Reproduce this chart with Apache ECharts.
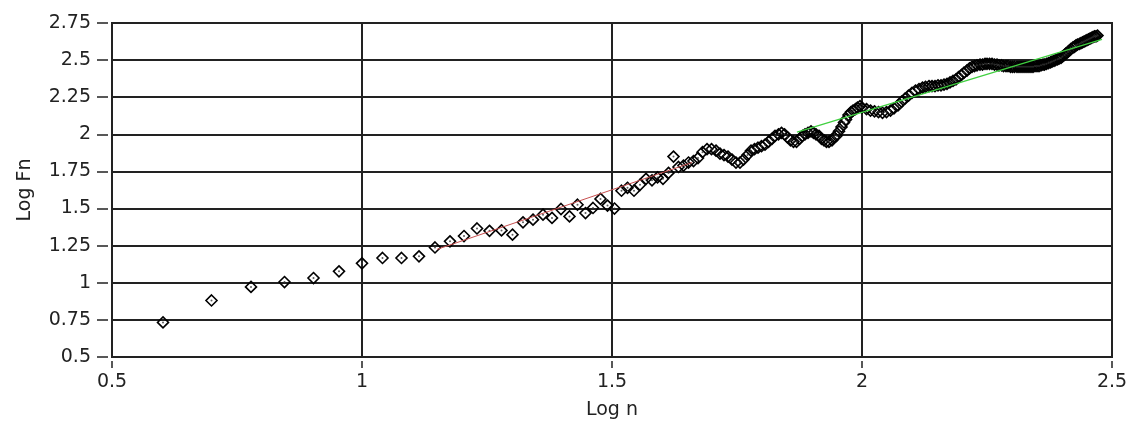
<!DOCTYPE html>
<html>
<head>
<meta charset="utf-8">
<script src="https://cdn.jsdelivr.net/npm/echarts@6/dist/echarts.min.js"></script>
<style>
html,body{margin:0;padding:0;background:#fff;}
#chart{width:1134px;height:426px;}
</style>
</head>
<body>
<div id="chart"></div>
<script>
const logN = [
  0.602,0.699,0.778,0.845,0.903,0.954,1.000,1.041,1.079,1.114,
  1.146,1.176,1.204,1.230,1.255,1.279,1.301,1.322,1.342,1.362,
  1.380,1.398,1.415,1.431,1.447,1.462,1.477,1.491,1.505,1.519,
  1.531,1.544,1.556,1.568,1.580,1.591,1.602,1.613,1.623,1.633,
  1.643,1.653,1.663,1.672,1.681,1.690,1.699,1.708,1.716,1.724,
  1.732,1.740,1.748,1.756,1.763,1.771,1.778,1.785,1.792,1.799,
  1.806,1.813,1.820,1.826,1.833,1.839,1.845,1.851,1.857,1.863,
  1.869,1.875,1.881,1.886,1.892,1.898,1.903,1.908,1.914,1.919,
  1.924,1.929,1.934,1.940,1.944,1.949,1.954,1.959,1.964,1.968,
  1.973,1.978,1.982,1.987,1.991,1.996,2.000,
  2.009,2.017,2.025,2.033,2.041,2.049,2.057,2.064,2.072,2.079,
  2.086,2.093,2.100,2.107,2.114,2.121,2.127,2.134,2.140,2.146,
  2.152,2.158,2.164,2.170,2.176,2.182,2.188,2.193,2.199,2.204,
  2.210,2.215,2.220,2.225,2.230,2.236,2.241,2.246,2.250,2.255,
  2.260,2.265,2.270,2.274,2.279,2.283,2.288,2.292,2.297,2.301,
  2.305,2.310,2.314,2.318,2.322,2.326,2.330,2.334,2.338,2.342,
  2.346,2.350,2.354,2.358,2.362,2.365,2.369,2.373,2.377,2.380,
  2.384,2.387,2.391,2.394,2.398,2.401,2.405,2.408,2.412,2.415,
  2.418,2.422,2.425,2.428,2.431,2.435,2.438,2.441,2.444,2.447,
  2.450,2.453,2.456,2.459,2.462,2.465,2.468,2.471
];
const logFn = [
  0.733,0.881,0.972,1.005,1.032,1.077,1.131,1.167,1.167,1.178,
  1.238,1.279,1.315,1.366,1.350,1.353,1.324,1.407,1.425,1.459,
  1.437,1.497,1.447,1.526,1.470,1.504,1.565,1.520,1.500,1.620,
  1.640,1.620,1.660,1.700,1.690,1.710,1.700,1.740,1.850,1.780,
  1.790,1.810,1.820,1.840,1.880,1.900,1.900,1.890,1.870,1.860,
  1.850,1.830,1.810,1.810,1.830,1.860,1.890,1.900,1.910,1.920,
  1.930,1.950,1.970,1.990,2.000,2.010,2.000,1.980,1.960,1.950,
  1.950,1.970,1.990,2.000,2.010,2.020,2.010,2.000,1.990,1.970,
  1.960,1.950,1.950,1.960,1.980,1.990,2.020,2.050,2.080,2.100,
  2.130,2.150,2.160,2.170,2.180,2.190,2.180,
  2.170,2.160,2.155,2.150,2.145,2.150,2.160,2.175,2.195,2.220,
  2.240,2.260,2.280,2.295,2.305,2.315,2.320,2.325,2.325,2.325,
  2.330,2.330,2.335,2.340,2.350,2.360,2.370,2.385,2.400,2.415,
  2.430,2.445,2.455,2.460,2.465,2.470,2.470,2.475,2.475,2.475,
  2.475,2.470,2.470,2.465,2.465,2.460,2.460,2.460,2.455,2.455,
  2.455,2.455,2.455,2.455,2.455,2.455,2.455,2.455,2.455,2.455,
  2.460,2.460,2.460,2.465,2.470,2.470,2.475,2.480,2.485,2.490,
  2.495,2.500,2.505,2.510,2.515,2.525,2.535,2.545,2.555,2.565,
  2.575,2.585,2.590,2.600,2.605,2.610,2.615,2.620,2.625,2.630,
  2.635,2.640,2.645,2.650,2.655,2.660,2.660,2.665
];
// fitted lines (end points)
const redFitX = [1.15, 1.66];
const redFitY = [1.225, 1.81];
const greenFitX = [1.87, 2.48];
const greenFitY = [2.015, 2.64];

const xTicks = ['0.5','1','1.5','2','2.5'];
const yTicks = ['0.5','0.75','1','1.25','1.5','1.75','2','2.25','2.5','2.75'];

const pts = logN.map((x, i) => [x, logFn[i]]);
const toPairs = (xs, ys) => xs.map((x, i) => [x, ys[i]]);

const FONT = 'DejaVu Sans';
const INK = '#222';
const chart = echarts.init(document.getElementById('chart'), null, {renderer: 'canvas'});
chart.setOption({
  animation: false,
  backgroundColor: '#fff',
  grid: {left: 112, right: 22, top: 23, bottom: 69, show: true, borderColor: INK, borderWidth: 2, backgroundColor: 'transparent'},
  xAxis: [{
    type: 'value', min: 0.5, max: 2.5, interval: 0.5, position: 'bottom',
    name: 'Log n', nameLocation: 'middle', nameGap: 44,
    nameTextStyle: {fontFamily: FONT, fontSize: 19, color: INK},
    axisLine: {show: true, onZero: false, lineStyle: {color: INK, width: 2}},
    axisTick: {show: false},
    axisLabel: {margin: 16, fontFamily: FONT, fontSize: 19, color: INK,
      formatter: v => xTicks.find(t => Math.abs(parseFloat(t) - v) < 1e-6) || ''},
    splitLine: {show: true, lineStyle: {color: INK, width: 2}}
  }, {
    type: 'value', min: 0.5, max: 2.5, interval: 0.5, position: 'bottom', offset: 4,
    axisLine: {show: false}, axisLabel: {show: false}, splitLine: {show: false},
    axisTick: {show: true, length: 7, lineStyle: {color: INK, width: 1.5}}
  }],
  yAxis: [{
    type: 'value', min: 0.5, max: 2.75, interval: 0.25, position: 'left',
    name: 'Log Fn', nameLocation: 'middle', nameGap: 77, nameRotate: 90,
    nameTextStyle: {fontFamily: FONT, fontSize: 19, color: INK},
    axisLine: {show: true, onZero: false, lineStyle: {color: INK, width: 2}},
    axisTick: {show: false},
    axisLabel: {margin: 21, fontFamily: FONT, fontSize: 19, color: INK,
      formatter: v => yTicks.find(t => Math.abs(parseFloat(t) - v) < 1e-6) || ''},
    splitLine: {show: true, lineStyle: {color: INK, width: 2}}
  }, {
    type: 'value', min: 0.5, max: 2.75, interval: 0.25, position: 'left', offset: 4,
    axisLine: {show: false}, axisLabel: {show: false}, splitLine: {show: false},
    axisTick: {show: true, length: 11, lineStyle: {color: INK, width: 1.5}}
  }],
  series: [{
    type: 'scatter', xAxisIndex: 0, yAxisIndex: 0, data: pts,
    symbol: 'diamond', symbolSize: 11,
    itemStyle: {color: 'rgba(0,0,0,0)', borderColor: '#000', borderWidth: 1.6, opacity: 1},
    z: 3
  }, {
    type: 'scatter', xAxisIndex: 0, yAxisIndex: 0, data: pts,
    symbol: 'circle', symbolSize: 2,
    itemStyle: {color: '#333'}, z: 4, silent: true
  }, {
    type: 'line', xAxisIndex: 0, yAxisIndex: 0, data: toPairs(redFitX, redFitY),
    showSymbol: false, symbol: 'none', lineStyle: {color: '#c85050', width: 1}, z: 5, silent: true
  }, {
    type: 'line', xAxisIndex: 0, yAxisIndex: 0, data: toPairs(greenFitX, greenFitY),
    showSymbol: false, symbol: 'none', lineStyle: {color: '#40d040', width: 1.2}, z: 5, silent: true
  }]
});
</script>
</body>
</html>
